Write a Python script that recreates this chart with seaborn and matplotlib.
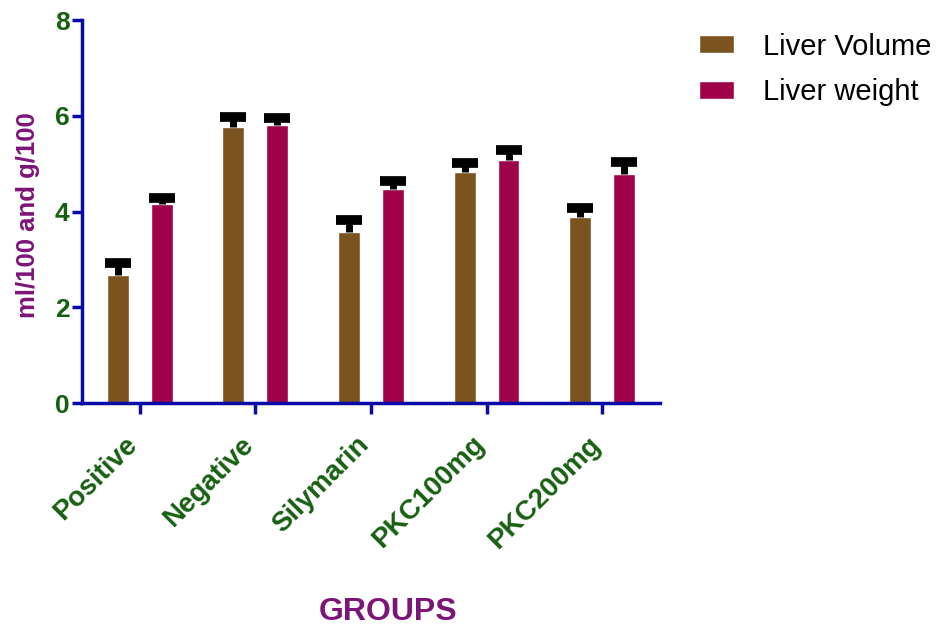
import matplotlib
matplotlib.use("Agg")
import matplotlib.pyplot as plt
import matplotlib.transforms as mtransforms
import seaborn as sns
import pandas as pd

groups = ["Positive", "Negative", "Silymarin", "PKC100mg", "PKC200mg"]
series = ["Liver Volume", "Liver weight"]
liver_volume = [2.67, 5.76, 3.57, 4.82, 3.88]
liver_weight = [4.15, 5.80, 4.47, 5.07, 4.78]
volume_err = [0.25, 0.22, 0.25, 0.20, 0.20]
weight_err = [0.13, 0.15, 0.17, 0.22, 0.25]

df = pd.DataFrame({
    "group": groups * 2,
    "series": [series[0]] * 5 + [series[1]] * 5,
    "value": liver_volume + liver_weight,
})

sns.set_style("white")
plt.rcParams["font.family"] = ["Liberation Sans", "DejaVu Sans"]

axis_blue = "#0a0aa8"
tick_green = "#176012"
label_purple = "#7d1478"
colors = ["#7a531e", "#a0024a"]

fig = plt.figure(figsize=(9.49, 6.3), dpi=100)
ax = fig.add_axes([0.0864, 0.360, 0.609, 0.608])

sns.barplot(data=df, x="group", y="value", hue="series", palette=colors,
            width=0.76, gap=0.5, errorbar=None, saturation=1, ax=ax)

# GraphPad style: only the upper half of the SEM bar, thick cap
errs = volume_err + weight_err
for bar, val, e in zip(ax.patches, df["value"], errs):
    xc = bar.get_x() + bar.get_width() / 2
    ax.errorbar(xc, val, yerr=[[0], [e]], fmt="none", ecolor="black",
                elinewidth=5, capsize=0, zorder=3)
    ax.plot([xc], [val + e], marker="_", markersize=19, mew=7,
            color="black", zorder=4)

ax.set_ylim(0, 8)
ax.set_xlim(-0.5, 4.5)
ax.set_yticks([0, 2, 4, 6, 8])
sns.despine(ax=ax)
for side in ["left", "bottom"]:
    ax.spines[side].set_color(axis_blue)
    ax.spines[side].set_linewidth(2.5)
ax.tick_params(axis="both", colors=axis_blue, width=2.5,
               direction="out", left=True, bottom=True)
ax.tick_params(axis="x", length=8, pad=19)
ax.tick_params(axis="y", length=7, pad=2)
for lbl in ax.get_yticklabels():
    lbl.set_color(tick_green)
    lbl.set_fontweight("bold")
    lbl.set_fontsize(19)
ax.set_xticks(range(len(groups)))
ax.set_xticklabels(groups, rotation=45, ha="right", va="center",
                   rotation_mode="anchor", color=tick_green,
                   fontweight="bold", fontsize=20)
shift = mtransforms.ScaledTranslation(-6 / 100, 0, fig.dpi_scale_trans)
for lbl in ax.get_xticklabels():
    lbl.set_transform(lbl.get_transform() + shift)

ax.set_ylabel("ml/100 and g/100", color=label_purple, fontweight="bold",
              fontsize=18.5)
ax.yaxis.label.set_va("center")
ax.yaxis.set_label_coords(-0.093, 0.49)
ax.set_xlabel("GROUPS", color=label_purple, fontweight="bold", fontsize=23)
ax.xaxis.set_label_coords(0.529, -0.505)

ax.legend(loc="upper left", bbox_to_anchor=(684 / 949, 1 - 18 / 630),
          bbox_transform=fig.transFigure, frameon=False, borderpad=0,
          fontsize=21, handlelength=1.2, handleheight=0.55,
          labelspacing=0.6, handletextpad=1.0, labelcolor="black")

fig.savefig("out.png", dpi=100)
plt.close(fig)
